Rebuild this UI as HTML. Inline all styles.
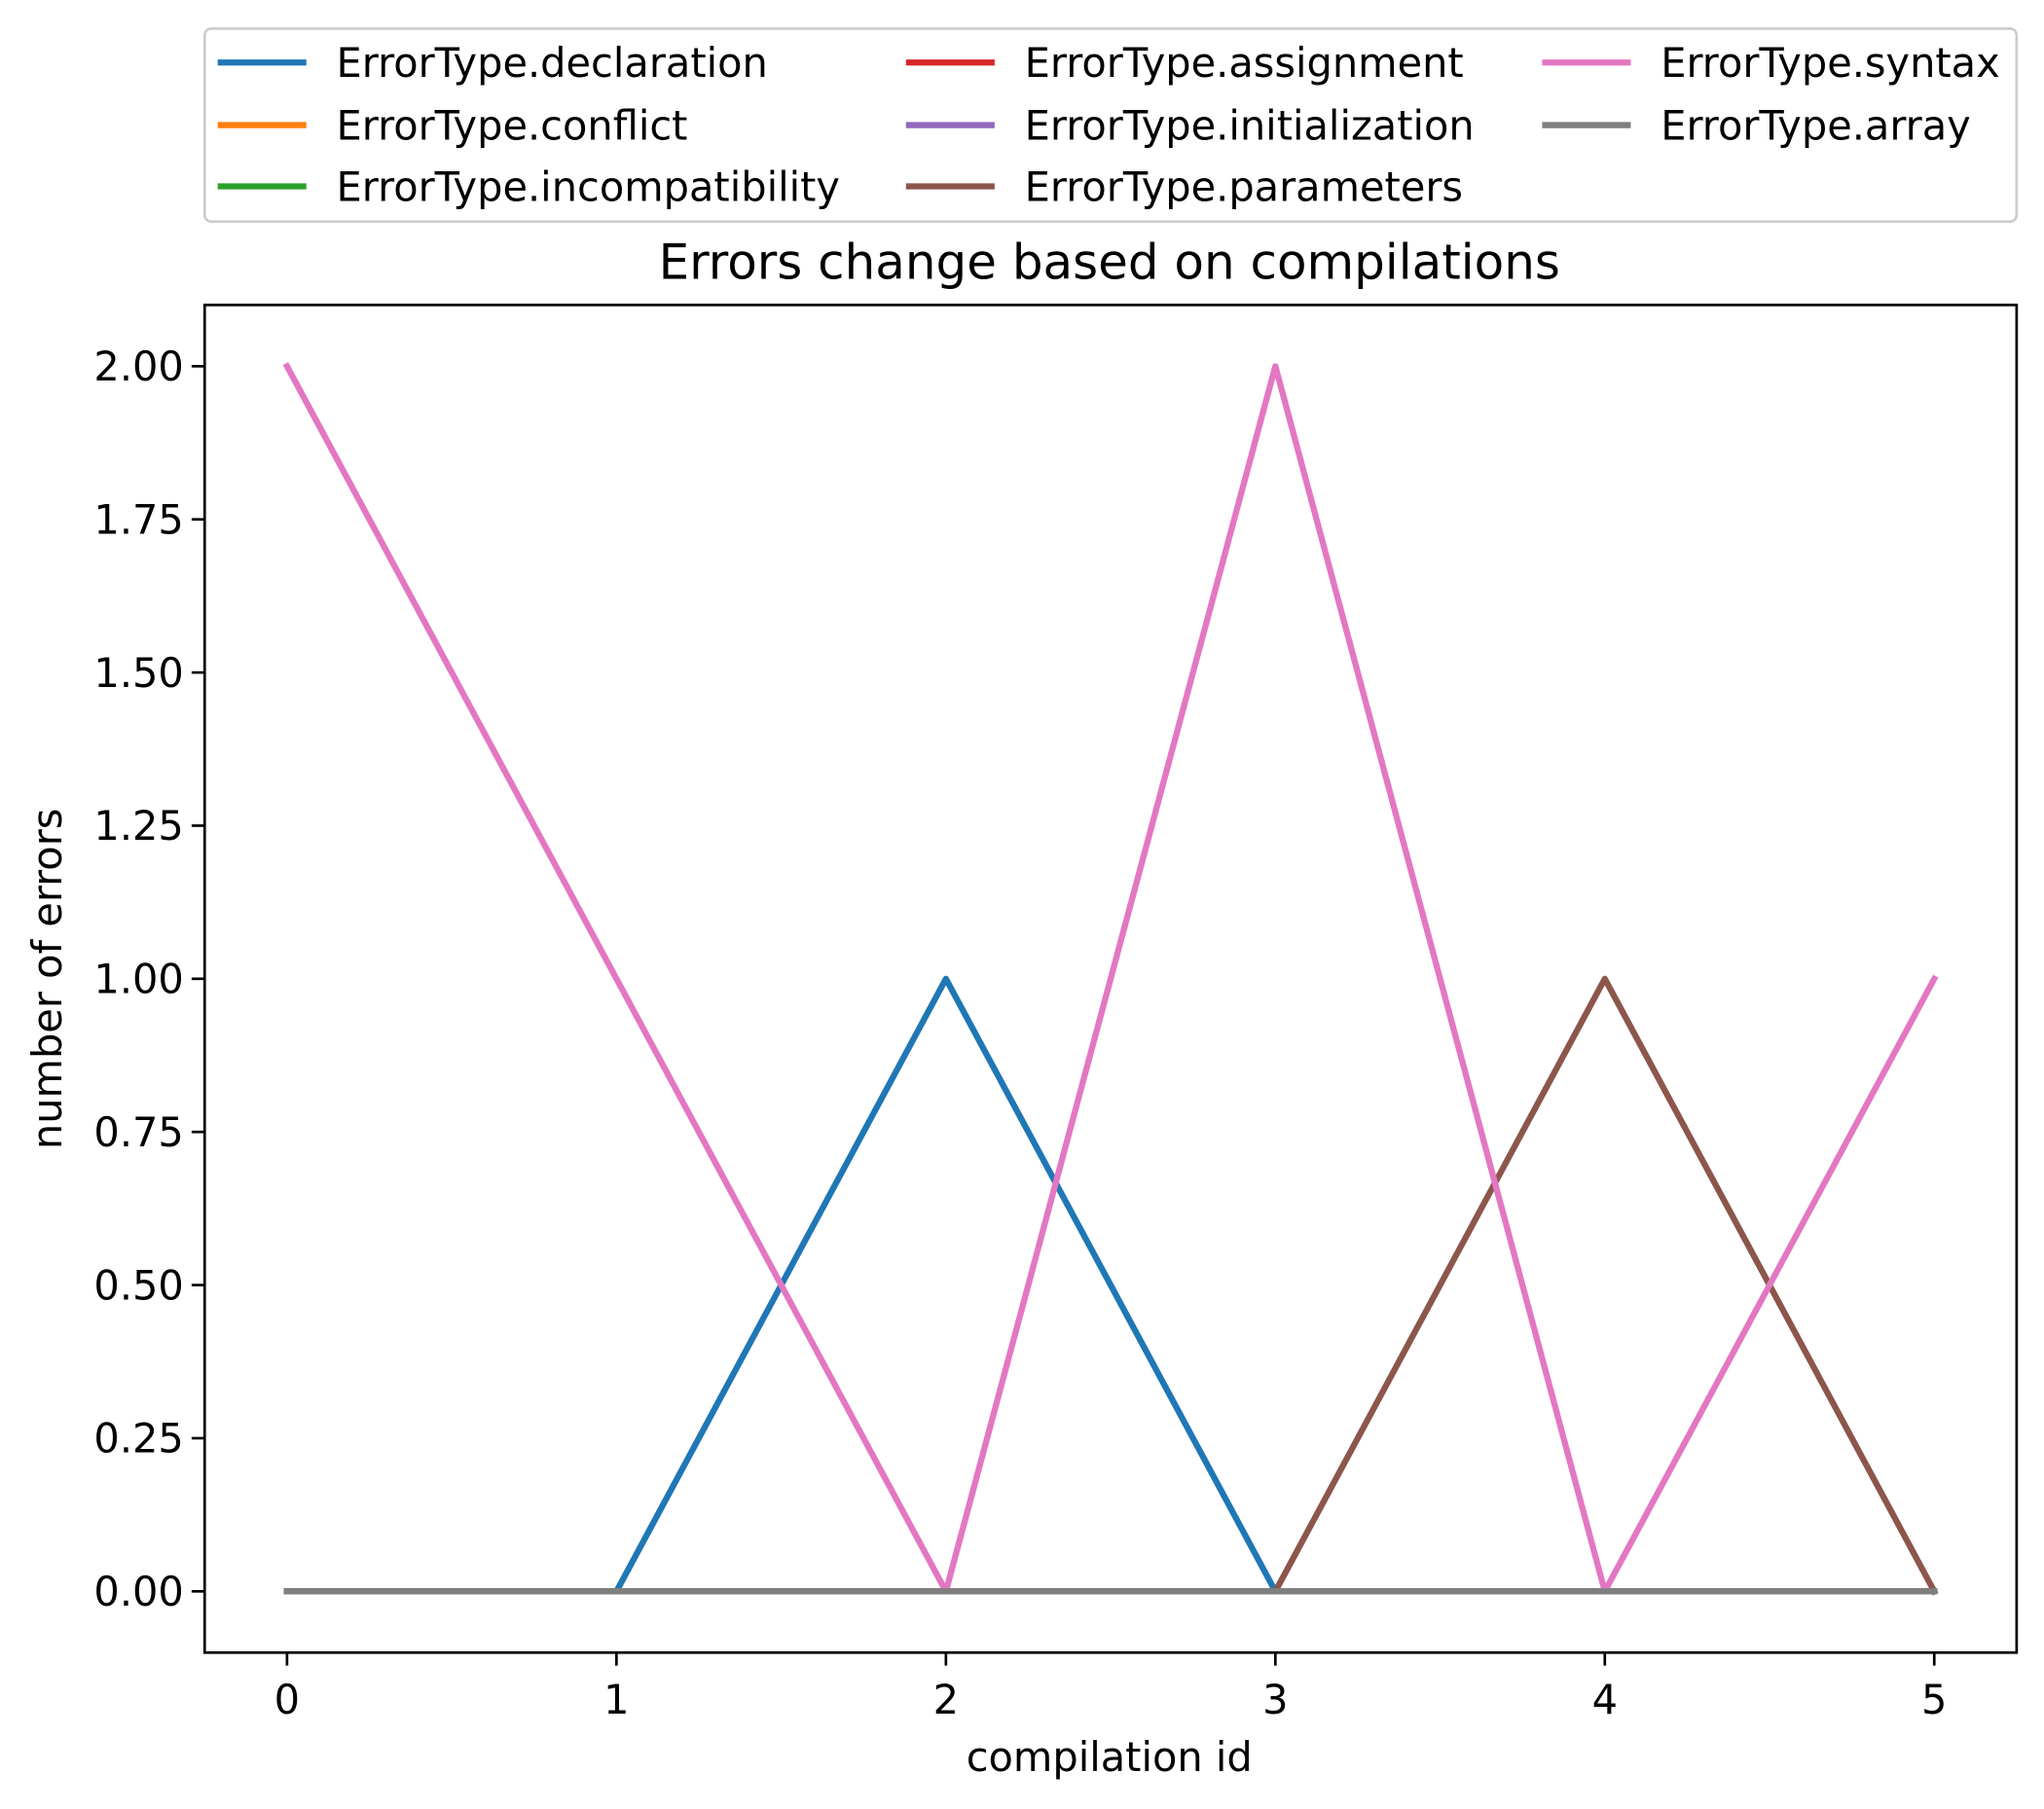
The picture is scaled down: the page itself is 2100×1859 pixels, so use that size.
<!DOCTYPE html>
<html><head><meta charset="utf-8">
<style>
html,body{margin:0;padding:0;background:#fff;}
svg{display:block;}
text{font-family:"DejaVu Sans","Liberation Sans",sans-serif;fill:#000;}
</style></head>
<body>
<svg id="chart" width="2100" height="1859" viewBox="0 0 1568 1388" preserveAspectRatio="none" xmlns="http://www.w3.org/2000/svg">
<rect width="1568" height="1388" fill="#fff"/>
<g id="legend"></g>
<text x="851" y="214" font-size="37.3" text-anchor="middle">Errors change based on compilations</text>
<g id="plot"></g>
<text x="851" y="1359" font-size="31" text-anchor="middle">compilation id</text>
<text x="0" y="0" font-size="31" text-anchor="middle" transform="translate(47,751) rotate(-90)">number of errors</text>
</svg>
<script>
const xValues = [0, 1, 2, 3, 4, 5];
const seriesNames = ["ErrorType.declaration","ErrorType.conflict","ErrorType.incompatibility","ErrorType.assignment","ErrorType.initialization","ErrorType.parameters","ErrorType.syntax","ErrorType.array"];
const seriesColors = ["#1f77b4","#ff7f0e","#2ca02c","#d62728","#9467bd","#8c564b","#e377c2","#7f7f7f"];
const declaration = [0, 0, 1, 0, 0, 0];
const conflict = [0, 0, 0, 0, 0, 0];
const incompatibility = [0, 0, 0, 0, 0, 0];
const assignment = [0, 0, 0, 0, 0, 0];
const initialization = [0, 0, 0, 0, 0, 0];
const parameters = [0, 0, 0, 0, 1, 0];
const syntax = [2, 1, 0, 2, 0, 1];
const array = [0, 0, 0, 0, 0, 0];
const xTicks = [0, 1, 2, 3, 4, 5];
const yTicks = [0, 0.25, 0.5, 0.75, 1.0, 1.25, 1.5, 1.75, 2.0];

const NS = "http://www.w3.org/2000/svg";
const L = 157, R = 1547, T = 234, B = 1268;
const xMin = -0.25, xMax = 5.25, yMin = -0.1, yMax = 2.1;
const xs = v => L + (v - xMin) / (xMax - xMin) * (R - L);
const ys = v => B - (v - yMin) / (yMax - yMin) * (B - T);
function mk(tag, attrs, parent) {
  const e = document.createElementNS(NS, tag);
  for (const k in attrs) e.setAttribute(k, attrs[k]);
  parent.appendChild(e);
  return e;
}
const plot = document.getElementById("plot");
const allSeries = [declaration, conflict, incompatibility, assignment, initialization, parameters, syntax, array];
allSeries.forEach((s, i) => {
  const pl = mk("polyline", {points: s.map((v, j) => xs(xValues[j]) + "," + ys(v)).join(" "), fill: "none", stroke: seriesColors[i], "stroke-width": 4.7, "stroke-linejoin": "round", "stroke-linecap": "square"}, plot);
  
  
});
const frame = mk("rect", {x: L, y: T, width: R - L, height: B - T, fill: "none", stroke: "#000", "stroke-width": 2}, plot);


xTicks.forEach(v => {
  const x = xs(v);
  const tk = mk("line", {x1: x, x2: x, y1: B, y2: B + 10, stroke: "#000", "stroke-width": 2}, plot);
  
  
  const t = mk("text", {x: x, y: B + 47, "font-size": 31, "text-anchor": "middle"}, plot);
  t.textContent = String(v);
  
  
});
yTicks.forEach(v => {
  const y = ys(v);
  const tk = mk("line", {x1: L - 10, x2: L, y1: y, y2: y, stroke: "#000", "stroke-width": 2}, plot);
  
  
  const t = mk("text", {x: L - 16, y: y + 11, "font-size": 31, "text-anchor": "end"}, plot);
  t.textContent = v.toFixed(2);
  
  
});
const lg = document.getElementById("legend");
const box = mk("rect", {x: 157, y: 22, width: 1390, height: 148, rx: 5, fill: "#fff", stroke: "#ccc", "stroke-width": 2}, lg);


const colX = [167, 695, 1183];
const rowY = [48, 96, 143];
seriesNames.forEach((n, i) => {
  const c = Math.floor(i / 3), r = i % 3;
  const g = mk("g", {}, lg);
  
  
  mk("line", {x1: colX[c], x2: colX[c] + 68, y1: rowY[r], y2: rowY[r], stroke: seriesColors[i], "stroke-width": 4.7}, g);
  const t = mk("text", {x: colX[c] + 91, y: rowY[r] + 11, "font-size": 31}, g);
  t.textContent = n;
});
</script>
</body></html>
